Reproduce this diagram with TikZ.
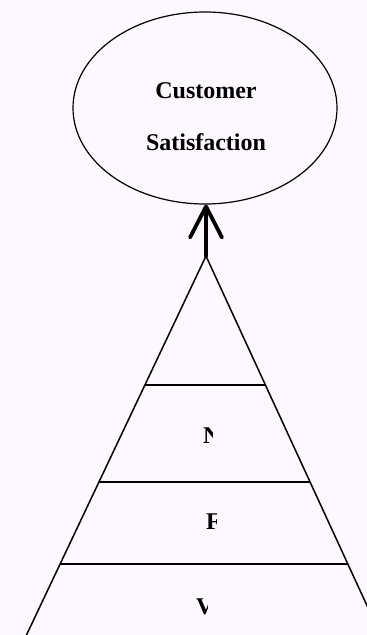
\documentclass[tikz,border=0pt]{standalone}
\usepackage{fontspec}
\setmainfont{Liberation Serif}
\definecolor{paperpink}{RGB}{253,248,255}
\usetikzlibrary{arrows.meta, shapes.geometric, positioning, calc}

\begin{document}
\begin{tikzpicture}[x=1pt, y=-1pt,
        goal/.style={draw, ellipse, line width=1.2pt, minimum width=264pt,
                     minimum height=192pt, inner sep=0pt},
        goaltext/.style={font=\fontsize{24}{52}\selectfont\bfseries, align=center,
                         inner sep=0pt},
        tierline/.style={line width=1.5pt},
        tierlabel/.style={font=\fontsize{24}{28}\selectfont\bfseries, inner sep=0pt,
                          anchor=base west},
        arr/.style={-{Straight Barb[length=31pt, width=32pt, round]},
                    line width=3.8pt, line cap=round}
      ]
        \fill[paperpink] (0,0) rectangle (367,635);
        \clip (0,0) rectangle (367,635);

        \node[goal] (goal) at (205,108) {};
        \node[goaltext, anchor=base] (goallabel) at (206,150) {Customer\\Satisfaction};

        % pyramid
        \coordinate (apex) at (206,256);
        \coordinate (bl) at (26,636);
        \coordinate (br) at (381,636);
        \draw[tierline] (bl) -- (apex) -- (br);
        \draw[tierline] ($(apex)!0.340!(bl)$) -- ($(apex)!0.340!(br)$);
        \draw[tierline] ($(apex)!0.595!(bl)$) -- ($(apex)!0.595!(br)$);
        \draw[tierline] ($(apex)!0.810!(bl)$) -- ($(apex)!0.810!(br)$);

        \begin{scope}
          \clip (202,420) rectangle (212,450);
          \node[tierlabel] (mid) at (203,443) {N};
        \end{scope}
        \begin{scope}
          \clip (206,505) rectangle (216,535);
          \node[tierlabel] (low) at (206,529) {F};
        \end{scope}
        \begin{scope}
          \clip (196,590) rectangle (207,625);
          \node[tierlabel] (base) at (196,614) {V};
        \end{scope}

        \draw[arr] (apex) -- (apex |- goal.south);
      \end{tikzpicture}
\end{document}
